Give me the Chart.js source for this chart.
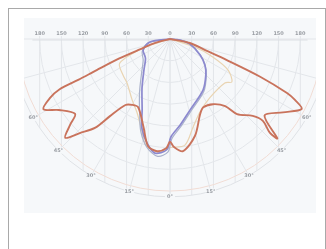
<!DOCTYPE html>
<html>
<head>
<meta charset="utf-8">
<script src="https://cdn.jsdelivr.net/npm/chart.js@4/dist/chart.umd.min.js"></script>
<style>
  html, body { margin: 0; padding: 0; background: #fff; }
  #wrap { position: relative; width: 326px; height: 249px; overflow: hidden; }
  #frame { position: absolute; left: 8px; top: 8px; width: 318px; height: 270px; border: 1px solid #a9a9a9; box-sizing: border-box; }
  #panel { position: absolute; left: 24px; top: 18px; width: 292px; height: 195px; background: #f6f8fa; }
  #chart { position: absolute; left: 0; top: 0; }
</style>
</head>
<body>
<div id="wrap">
  <div id="frame"></div>
  <div id="panel"></div>
  <canvas id="chart" width="326" height="249"></canvas>
</div>
<script>
// luminous intensity (cd) against angle from nadir (deg, minus = left)
const topTicks = [-180, -150, -120, -90, -60, -30, 0, 30, 60, 90, 120, 150, 180];
const topTickLabels = ['180', '150', '120', '90', '60', '30', '0', '30', '60', '90', '120', '150', '180'];
const ringValues = [30, 60, 90, 120, 150, 180, 210];
const spokeAngles = [-90, -75, -60, -45, -30, -15, 0, 15, 30, 45, 60, 75, 90];
const angleLabelAngles = [-60, -45, -30, -15, 0, 15, 30, 45, 60];
const angleLabels = ['60°', '45°', '30°', '15°', '0°', '15°', '30°', '45°', '60°'];

const redAngles = [-90, -75, -71, -69, -67, -66, -65.5, -63.8, -61, -57.4, -51.7, -49.3, -46.7, -43.8, -40.1, -37.9, -34, -30, -25, -17, -11.6, -6.6, -2, 0, 2, 6.6, 14.5, 21.8, 26, 33.5, 39.4, 41.8, 47.1, 48.6, 46.8, 47.2, 51, 57, 62, 64, 65.2, 67.3, 69.7, 72.5, 78.7, 90];
const redCd = [0, 21, 44, 75, 110, 138, 168, 185, 200, 182, 167, 182, 199, 180, 160, 135, 110, 105, 104, 126, 151, 156, 151, 142, 149, 156, 138, 112, 105, 108, 120, 139, 156, 171, 189, 202, 168, 186, 206, 192, 178, 135, 83, 51, 28, 0];

const blueAngles = [-90, -81.5, -67.8, -52, -40, -29.7, -21.5, -17.5, -12.5, -7.5, -1.7, 0.6, 6.6, 15.7, 32.9, 45, 53.4, 62, 76, 84, 90];
const blueCd = [0, 28, 40, 43, 56, 78, 105, 129, 147, 159, 153, 135, 120, 102, 84, 70, 60, 47, 28, 14, 0];

const greyAngles = [-90, -80, -66, -52, -40, -30, -22, -17.5, -12, -6, -1, 1, 7, 16, 33, 45, 53, 62, 76, 84, 90];
const greyCd = [0, 30, 42, 47, 61, 84, 112, 134, 153, 163, 156, 138, 122, 104, 86, 71, 61, 48, 29, 15, 0];

const beigeAngles = [-90, -72, -64.4, -52, -44.3, -31.9, -24.3, -18, -12.8, -6, 0, 8, 14.6, 22.3, 34, 51.3, 55.3, 61.9, 67.3, 72, 90];
const beigeCd = [0, 36, 77, 82, 85, 99, 111, 129, 150, 157, 150, 148, 126, 109, 98, 97, 104, 91, 64, 36, 0];

const PX_PER_CD = 0.724;
const ORIGIN_X = 170, ORIGIN_Y = 39;
const OUTER_RING = 218;
const PANEL = { left: 24, top: 18, width: 292, height: 195 };

function toXY(angles, values) {
  return angles.map((a, i) => {
    const t = a * Math.PI / 180;
    return { x: values[i] * Math.sin(t), y: -values[i] * Math.cos(t) };
  });
}

function lineSet(data, color, width) {
  return {
    data,
    showLine: true,
    borderColor: color,
    borderWidth: width,
    pointRadius: 0,
    fill: false,
    tension: 0.3
  };
}

const gridPlugin = {
  id: 'polarGrid',
  beforeDatasetsDraw(chart) {
    const { ctx, scales: { x, y } } = chart;
    const cx = x.getPixelForValue(0), cy = y.getPixelForValue(0);
    const rad = v => x.getPixelForValue(v) - cx;
    ctx.save();
    ctx.beginPath();
    ctx.rect(PANEL.left, PANEL.top, PANEL.width, PANEL.height);
    ctx.clip();
    ctx.lineWidth = 1;

    // vertical lines under the top scale
    ctx.strokeStyle = '#e2e5e9';
    topTicks.forEach(v => {
      const px = x.getPixelForValue(v);
      const depth = Math.sqrt(OUTER_RING * OUTER_RING - v * v);
      ctx.beginPath();
      ctx.moveTo(px, cy - 3);
      ctx.lineTo(px, y.getPixelForValue(-depth));
      ctx.stroke();
    });

    // rings
    ringValues.forEach((v, i) => {
      ctx.strokeStyle = i === ringValues.length - 1 ? '#f1dcd4' : '#e3e6ea';
      ctx.beginPath();
      ctx.arc(cx, cy, rad(v), 0, Math.PI);
      ctx.stroke();
    });
    ctx.strokeStyle = '#dfe2e6';
    ctx.beginPath();
    ctx.arc(cx, cy, rad(OUTER_RING), 0, Math.PI);
    ctx.stroke();

    // spokes
    ctx.strokeStyle = '#e3e6ea';
    spokeAngles.forEach(a => {
      const t = a * Math.PI / 180;
      ctx.beginPath();
      ctx.moveTo(cx, cy);
      ctx.lineTo(x.getPixelForValue(OUTER_RING * Math.sin(t)), y.getPixelForValue(-OUTER_RING * Math.cos(t)));
      ctx.stroke();
    });

    // top axis
    ctx.strokeStyle = '#dcdfe3';
    ctx.beginPath();
    ctx.moveTo(x.getPixelForValue(-190), cy + 1);
    ctx.lineTo(x.getPixelForValue(190), cy + 1);
    ctx.stroke();

    ctx.font = 'bold 5px "DejaVu Sans", sans-serif';
    ctx.fillStyle = '#9a9ea4';
    ctx.textAlign = 'center';
    ctx.textBaseline = 'middle';
    topTicks.forEach((v, i) => {
      ctx.fillText(topTickLabels[i], x.getPixelForValue(v), cy - 5);
    });

    angleLabelAngles.forEach((a, i) => {
      const t = a * Math.PI / 180;
      const px = x.getPixelForValue(OUTER_RING * Math.sin(t));
      const py = y.getPixelForValue(-OUTER_RING * Math.cos(t));
      ctx.fillStyle = '#f6f8fa';
      ctx.fillRect(px - 5, py - 3, 10, 6);
      ctx.fillStyle = '#9a9ea4';
      ctx.fillText(angleLabels[i], px, py);
    });
    ctx.restore();
  }
};

const W = 326, H = 249;
new Chart(document.getElementById('chart'), {
  type: 'scatter',
  data: {
    datasets: [
      lineSet(toXY(redAngles, redCd), '#c9735c', 1.9),
      lineSet(toXY(blueAngles, blueCd), '#8c89cf', 1.7),
      lineSet(toXY(greyAngles, greyCd), '#aab2cb', 1.2),
      lineSet(toXY(beigeAngles, beigeCd), '#e9d4b2', 1.2)
    ]
  },
  options: {
    responsive: false,
    animation: false,
    layout: { padding: 0 },
    plugins: { legend: { display: false }, tooltip: { enabled: false } },
    scales: {
      x: { display: false, min: -ORIGIN_X / PX_PER_CD, max: (W - ORIGIN_X) / PX_PER_CD },
      y: { display: false, min: -(H - ORIGIN_Y) / PX_PER_CD, max: ORIGIN_Y / PX_PER_CD }
    }
  },
  plugins: [gridPlugin]
});
</script>
</body>
</html>
